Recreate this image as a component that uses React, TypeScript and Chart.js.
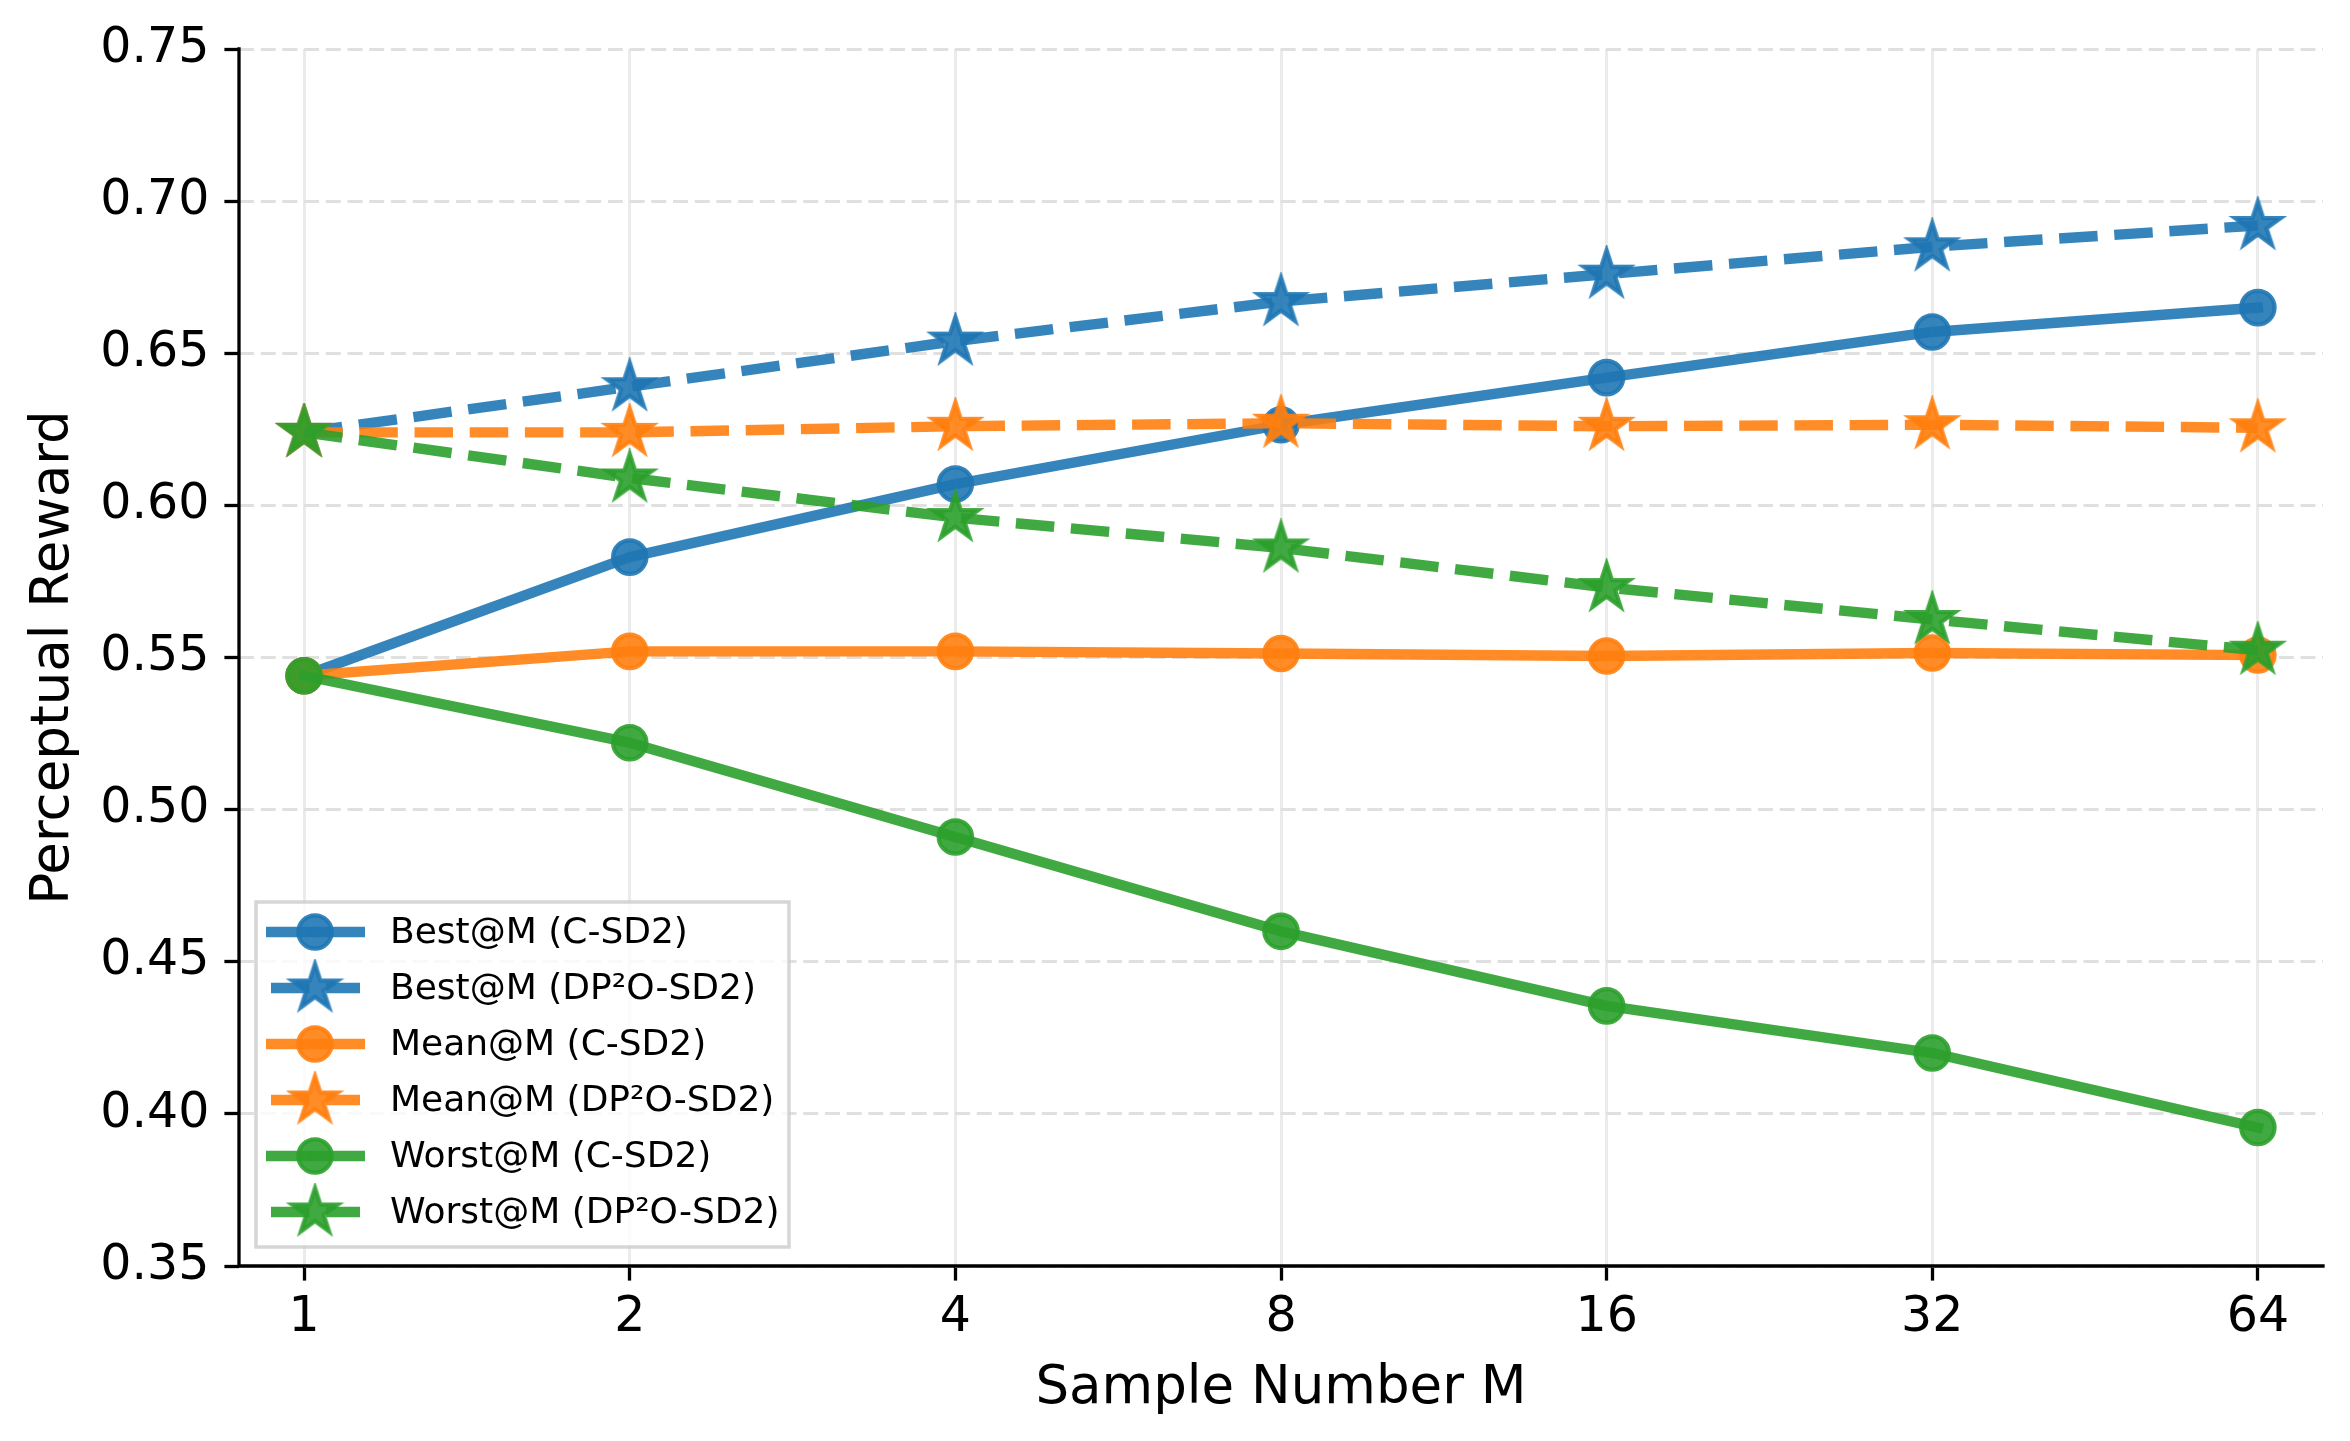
import React, { useEffect, useRef } from 'react';
import { Chart, registerables } from 'chart.js';

Chart.register(...registerables);

// ---------- data ----------
const categories = ['1', '2', '4', '8', '16', '32', '64'];
const yTickValues = [0.35, 0.4, 0.45, 0.5, 0.55, 0.6, 0.65, 0.7, 0.75];

const bestCSD2 = [0.544, 0.583, 0.607, 0.6265, 0.642, 0.657, 0.665];
const bestDP2O = [0.624, 0.639, 0.654, 0.667, 0.676, 0.685, 0.692];
const meanCSD2 = [0.544, 0.552, 0.552, 0.5513, 0.5505, 0.5515, 0.5508];
const meanDP2O = [0.624, 0.624, 0.626, 0.627, 0.626, 0.6265, 0.6255];
const worstCSD2 = [0.544, 0.522, 0.491, 0.46, 0.4355, 0.42, 0.3955];
const worstDP2O = [0.624, 0.609, 0.596, 0.586, 0.573, 0.5625, 0.5524];

const seriesLabels = [
  'Best@M (C-SD2)',
  'Best@M (DP\u00B2O-SD2)',
  'Mean@M (C-SD2)',
  'Mean@M (DP\u00B2O-SD2)',
  'Worst@M (C-SD2)',
  'Worst@M (DP\u00B2O-SD2)',
];
const seriesValues = [bestCSD2, bestDP2O, meanCSD2, meanDP2O, worstCSD2, worstDP2O];
const seriesColors = [
  'rgba(31,119,180,0.9)',
  'rgba(31,119,180,0.9)',
  'rgba(255,127,14,0.9)',
  'rgba(255,127,14,0.9)',
  'rgba(44,160,44,0.9)',
  'rgba(44,160,44,0.9)',
];
const seriesDashed = [false, true, false, true, false, true];

const xTitle = 'Sample Number M';
const yTitle = 'Perceptual Reward';

// ---------- styling ----------
const W = 2350;
const H = 1441;
const FONT = "'DejaVu Sans', 'Liberation Sans', sans-serif";
const LINE_W = 10.4;
const DASH = [38.5, 16.7];
const CIRCLE_R = 16.7;
const MARKER_EDGE = 4.2;
const STAR_R = 24;

function makeStar(color: string, R: number, lw: number): HTMLCanvasElement {
  const size = Math.ceil(2 * (R + lw)) + 2;
  const c = document.createElement('canvas');
  c.width = size;
  c.height = size;
  const ctx = c.getContext('2d')!;
  ctx.translate(size / 2, size / 2);
  ctx.beginPath();
  for (let k = 0; k < 10; k++) {
    const r = k % 2 === 0 ? R : R * 0.381966;
    const a = -Math.PI / 2 + (k * Math.PI) / 5;
    const px = r * Math.cos(a);
    const py = r * Math.sin(a);
    if (k === 0) ctx.moveTo(px, py);
    else ctx.lineTo(px, py);
  }
  ctx.closePath();
  ctx.fillStyle = color;
  ctx.fill();
  ctx.lineWidth = lw;
  ctx.lineJoin = 'miter';
  ctx.strokeStyle = color;
  ctx.stroke();
  return c;
}

export default function App() {
  const ref = useRef<HTMLCanvasElement | null>(null);

  useEffect(() => {
    document.body.style.margin = '0';
    const canvas = ref.current;
    if (!canvas) return;

    const stars = seriesColors.map((c) => makeStar(c, STAR_R, MARKER_EDGE));

    const datasets = seriesLabels.map((label, i) => ({
      label,
      data: categories.map((_, k) => ({ x: k, y: seriesValues[i][k] })),
      borderColor: seriesColors[i],
      backgroundColor: seriesColors[i],
      borderWidth: LINE_W,
      borderDash: seriesDashed[i] ? DASH : [],
      borderCapStyle: seriesDashed[i] ? 'butt' : 'square',
      borderJoinStyle: 'round',
      pointStyle: seriesDashed[i] ? stars[i] : 'circle',
      pointRadius: CIRCLE_R,
      pointBorderWidth: MARKER_EDGE,
      pointBackgroundColor: seriesColors[i],
      pointBorderColor: seriesColors[i],
      pointHoverRadius: CIRCLE_R,
      tension: 0,
      clip: false,
      order: seriesLabels.length - i,
    }));

    const decor = {
      id: 'mplDecor',
      afterDatasetsDraw(chart: any) {
        const { ctx, chartArea } = chart;
        ctx.save();
        ctx.strokeStyle = '#000';
        ctx.lineWidth = 3.3;
        ctx.lineCap = 'square';
        ctx.beginPath();
        ctx.moveTo(chartArea.left, chartArea.top);
        ctx.lineTo(chartArea.left, chartArea.bottom);
        ctx.lineTo(chartArea.right, chartArea.bottom);
        ctx.stroke();
        ctx.restore();
      },
      afterDraw(chart: any) {
        const { ctx } = chart;
        const lx = 256;
        const ly = 902;
        const lw = 533;
        const lh = 345;
        ctx.save();
        ctx.fillStyle = 'rgba(255,255,255,0.8)';
        ctx.fillRect(lx, ly, lw, lh);
        ctx.strokeStyle = 'rgba(204,204,204,0.8)';
        ctx.lineWidth = 3.5;
        ctx.strokeRect(lx, ly, lw, lh);
        const rowY0 = 932;
        const rowStep = 56;
        seriesLabels.forEach((label, i) => {
          const y = rowY0 + i * rowStep;
          const color = seriesColors[i];
          ctx.strokeStyle = color;
          ctx.lineWidth = LINE_W;
          ctx.beginPath();
          if (seriesDashed[i]) {
            ctx.setLineDash(DASH);
            ctx.lineCap = 'butt';
            ctx.moveTo(271, y);
            ctx.lineTo(360, y);
          } else {
            ctx.setLineDash([]);
            ctx.lineCap = 'butt';
            ctx.moveTo(266, y);
            ctx.lineTo(365, y);
          }
          ctx.stroke();
          ctx.setLineDash([]);
          if (seriesDashed[i]) {
            const s = stars[i];
            ctx.drawImage(s, 315 - s.width / 2, y - s.height / 2);
          } else {
            ctx.beginPath();
            ctx.arc(315, y, CIRCLE_R, 0, Math.PI * 2);
            ctx.fillStyle = color;
            ctx.fill();
            ctx.lineWidth = MARKER_EDGE;
            ctx.strokeStyle = color;
            ctx.stroke();
          }
          ctx.fillStyle = '#000';
          ctx.font = `36px ${FONT}`;
          ctx.textAlign = 'left';
          ctx.textBaseline = 'middle';
          ctx.fillText(label, 390, y + 2);
        });
        ctx.restore();
      },
    };

    const chart = new Chart(canvas, {
      type: 'line',
      data: { datasets: datasets as any },
      plugins: [decor],
      options: {
        animation: false,
        responsive: false,
        devicePixelRatio: 1,
        layout: { padding: { left: 0, top: 49, right: 27, bottom: 0 } },
        plugins: { legend: { display: false }, tooltip: { enabled: false } },
        scales: {
          x: {
            type: 'linear',
            min: -0.2,
            max: 6.2,
            afterBuildTicks: (scale: any) => {
              scale.ticks = categories.map((_, i) => ({ value: i }));
            },
            afterFit: (scale: any) => {
              scale.height = 175;
            },
            ticks: {
              callback: (v: any) => categories[Math.round(Number(v))],
              font: { family: FONT, size: 49 },
              color: '#000',
              padding: 8,
              maxRotation: 0,
              autoSkip: false,
            },
            grid: {
              color: '#ebebeb',
              lineWidth: 3,
              drawTicks: true,
              tickLength: 14.6,
              tickWidth: 3.3,
              tickColor: '#000',
            },
            border: { display: false },
            title: {
              display: true,
              text: xTitle,
              font: { family: FONT, size: 53 },
              color: '#000',
              padding: { top: 0, bottom: 20 },
            },
          },
          y: {
            type: 'linear',
            min: 0.35,
            max: 0.75,
            afterBuildTicks: (scale: any) => {
              scale.ticks = yTickValues.map((v) => ({ value: v }));
            },
            afterFit: (scale: any) => {
              scale.width = 239;
            },
            ticks: {
              callback: (v: any) => Number(v).toFixed(2),
              font: { family: FONT, size: 49 },
              color: '#000',
              padding: 15,
            },
            grid: {
              color: '#e0e0e0',
              lineWidth: 3,
              drawTicks: true,
              tickLength: 14.6,
              tickWidth: 3.3,
              tickColor: '#000',
              tickBorderDash: [],
            },
            border: { display: false, dash: [15, 6.7] },
            title: {
              display: true,
              text: yTitle,
              font: { family: FONT, size: 53 },
              color: '#000',
              padding: { top: 22, bottom: 0 },
            },
          },
        },
      } as any,
    });

    return () => {
      chart.destroy();
    };
  }, []);

  return (
    <div style={{ width: W, height: H }}>
      <canvas ref={ref} width={W} height={H} style={{ width: W, height: H, display: 'block' }} />
    </div>
  );
}
